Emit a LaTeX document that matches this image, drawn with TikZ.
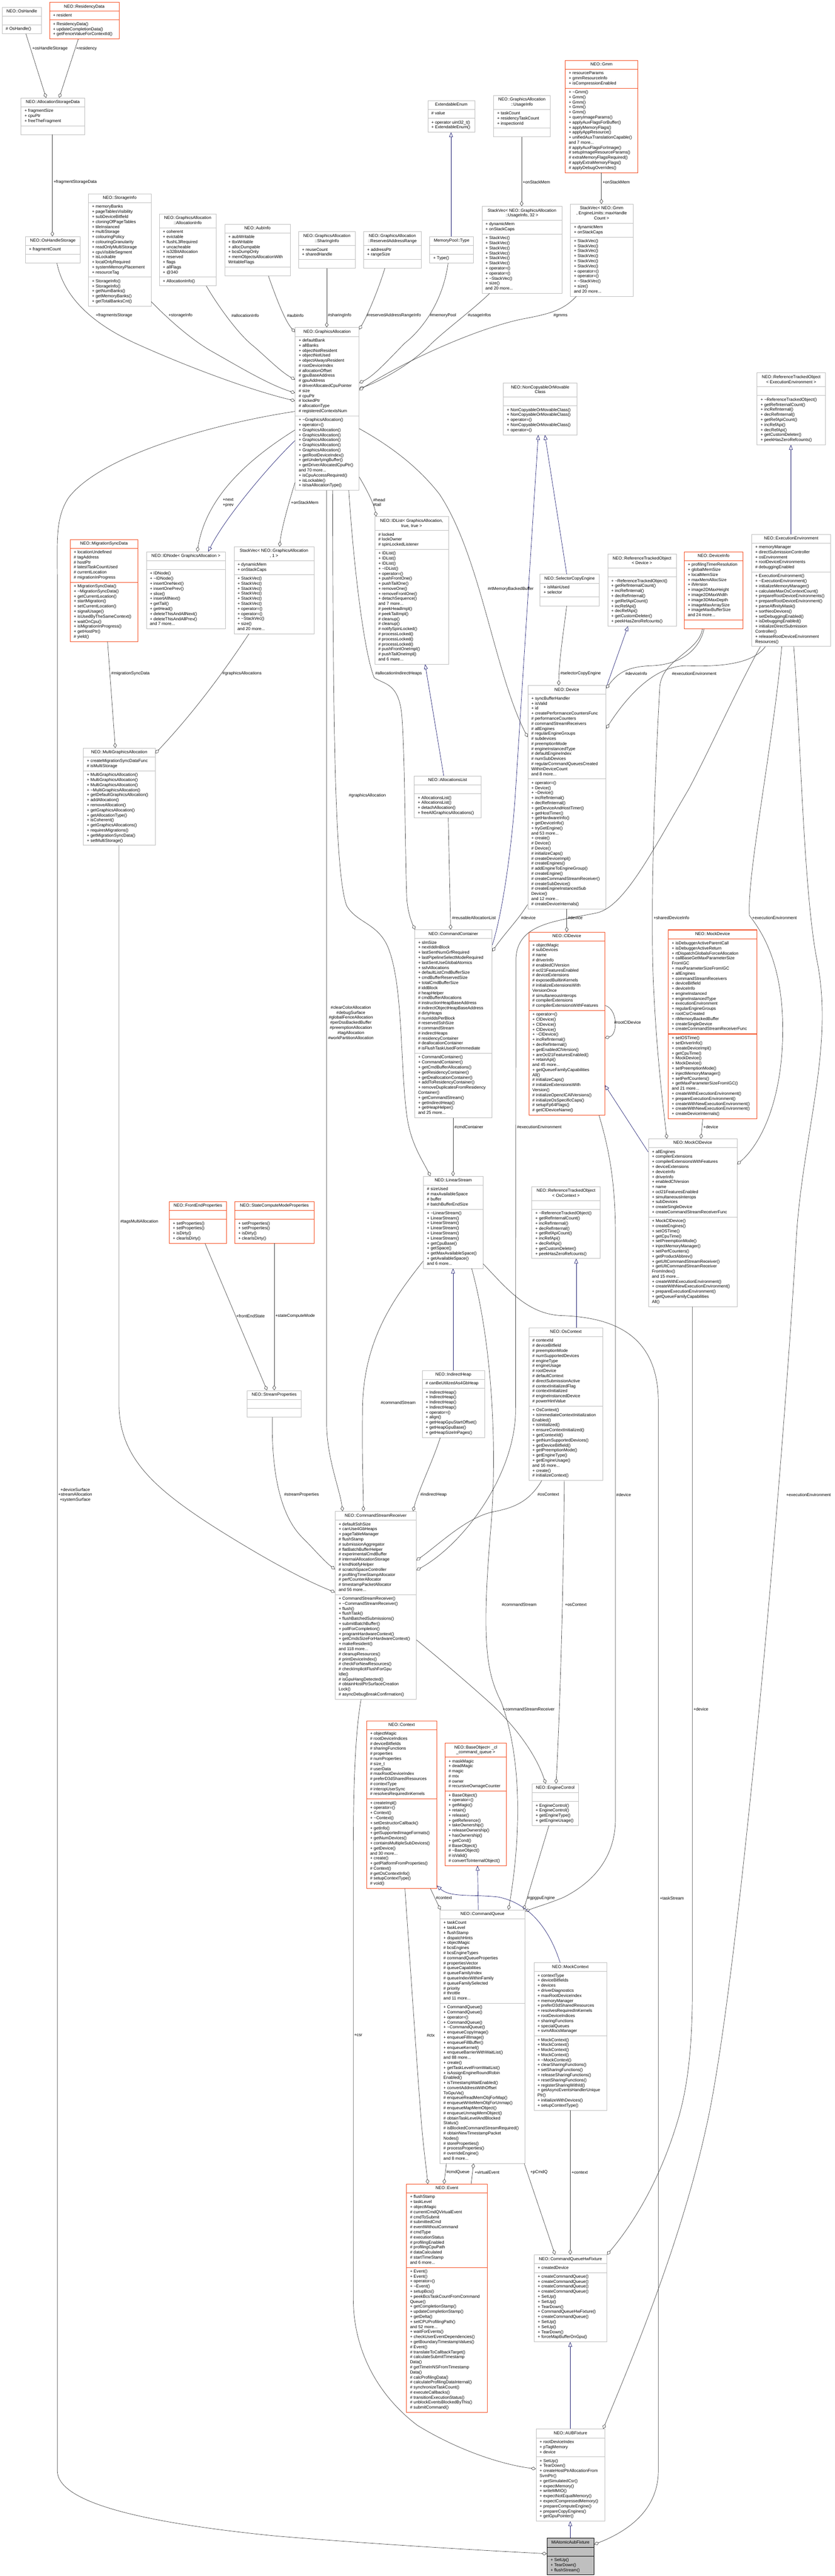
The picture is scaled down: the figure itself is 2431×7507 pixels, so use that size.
\documentclass[tikz,border=0pt]{standalone}
\usepackage{fontspec}
\setmainfont{Liberation Sans}
\usetikzlibrary{shapes.multipart,arrows.meta}
\definecolor{boxgray}{HTML}{BFBFBF}
\definecolor{boxred}{RGB}{245,75,30}
\definecolor{edgegray}{HTML}{404040}
\definecolor{inhblue}{HTML}{191970}
\setlength{\parindent}{0pt}
\newcommand{\tld}{\textasciitilde}
\newcommand{\umlc}[8]{\node[#5, minimum width=#4pt] (#1) at (#2,#3) {\begin{tabular}{@{}c@{}}#6\end{tabular}\nodepart{two}\begin{tabular}{@{}l@{}}#7\end{tabular}\nodepart{three}\begin{tabular}{@{}l@{}}#8\end{tabular}};}
\newcommand{\SVM}{+ StackVec()\\+ StackVec()\\+ StackVec()\\+ StackVec()\\+ StackVec()\\+ StackVec()\\+ operator=()\\+ operator=()\\+ \tld StackVec()\\+ size()\\and 20 more...}
\newcommand{\RTOM}{+ \tld ReferenceTrackedObject()\\+ getRefInternalCount()\\+ incRefInternal()\\+ decRefInternal()\\+ getRefApiCount()\\+ incRefApi()\\+ decRefApi()\\+ getCustomDeleter()\\+ peekHasZeroRefcounts()}
\newcommand{\FEPM}{+ setProperties()\\+ setProperties()\\+ isDirty()\\+ clearIsDirty()}
\tikzset{
 cls/.style={rectangle split, rectangle split parts=3, rectangle split part align={center,left,left}, draw=boxgray, line width=1pt, fill=white, inner xsep=10.5pt, inner ysep=5pt, anchor=north west, font=\fontsize{12.4}{14.7}\selectfont},
 redcls/.style={cls, draw=boxred},
 boldred/.style={cls, draw=boxred, line width=2pt},
 rootcls/.style={cls, draw=black, fill=boxgray},
 lbl/.style={font=\fontsize{12.4}{14.7}\selectfont, inner sep=0pt, anchor=west},
 uses/.style={draw=edgegray, line width=1pt, -{Diamond[length=15pt,width=10pt,fill=white]}},
 inh/.style={draw=inhblue, line width=1pt, -{Triangle[length=14pt,width=11pt,fill=white]}}
}
\begin{document}
\begin{tikzpicture}[x=1pt,y=-1pt]
\path[fill=white, use as bounding box] (0,0) rectangle (2431,7507);
% ---------- nodes ----------
\umlc{oshandle}{5.8}{20.4}{114.4}{cls}{NEO::OsHandle}{\mbox{}}{\# OsHandle()}
\umlc{residency}{143.4}{6.4}{203}{redcls}{NEO::ResidencyData}{+ resident}{+ ResidencyData()\\+ updateCompletionData()\\+ getFenceValueForContextId()}
\umlc{asd}{60.5}{285}{185.7}{cls}{NEO::AllocationStorageData}{+ fragmentSize\\+ cpuPtr\\+ freeTheFragment}{\mbox{}}
\umlc{ohs}{73.8}{688.8}{159.2}{cls}{NEO::OsHandleStorage}{+ fragmentCount}{\mbox{}}
\umlc{storageinfo}{257}{564.4}{182.4}{cls}{NEO::StorageInfo}{+ memoryBanks\\+ pageTablesVisibility\\+ subDeviceBitfield\\+ cloningOfPageTables\\+ tileInstanced\\+ multiStorage\\+ colouringPolicy\\+ colouringGranularity\\+ readOnlyMultiStorage\\+ cpuVisibleSegment\\+ isLockable\\+ localOnlyRequired\\+ systemMemoryPlacement\\+ resourceTag}{+ StorageInfo()\\+ StorageInfo()\\+ getNumBanks()\\+ getMemoryBanks()\\+ getTotalBanksCnt()}
\umlc{allocinfo}{463.4}{623}{165.9}{cls}{NEO::GraphicsAllocation\\::AllocationInfo}{+ coherent\\+ evictable\\+ flushL3Required\\+ uncacheable\\+ is32BitAllocation\\+ reserved\\+ flags\\+ allFlags\\+ @340}{+ AllocationInfo()}
\umlc{aubinfo}{654.1}{652.4}{190.7}{cls}{NEO::AubInfo}{+ aubWritable\\+ tbxWritable\\+ allocDumpable\\+ bcsDumpOnly\\+ memObjectsAllocationWith\\WritableFlags}{\mbox{}}
\umlc{sharinginfo}{868.8}{674.7}{165.8}{cls}{NEO::GraphicsAllocation\\::SharingInfo}{+ reuseCount\\+ sharedHandle}{\mbox{}}
\umlc{reservedar}{1058.7}{674.7}{167.5}{cls}{NEO::GraphicsAllocation\\::ReservedAddressRange}{+ addressPtr\\+ rangeSize}{\mbox{}}
\umlc{mptype}{1251}{688.8}{128}{cls}{MemoryPool::Type}{\mbox{}}{+ Type()}
\umlc{extenum}{1245.5}{292.7}{137.4}{cls}{ExtendableEnum}{\# value}{+ operator uint32\_t()\\+ ExtendableEnum()}
\umlc{usageinfo}{1437.1}{277.4}{165.6}{cls}{NEO::GraphicsAllocation\\::UsageInfo}{+ taskCount\\+ residencyTaskCount\\+ inspectionId}{\mbox{}}
\umlc{gmm}{1645.9}{175.4}{211.2}{redcls}{NEO::Gmm}{+ resourceParams\\+ gmmResourceInfo\\+ isCompressionEnabled}{+ \tld Gmm()\\+ Gmm()\\+ Gmm()\\+ Gmm()\\+ Gmm()\\+ queryImageParams()\\+ applyAuxFlagsForBuffer()\\+ applyMemoryFlags()\\+ applyAppResource()\\+ unifiedAuxTranslationCapable()\\and 7 more...\\\# applyAuxFlagsForImage()\\\# setupImageResourceParams()\\\# extraMemoryFlagsRequired()\\\# applyExtraMemoryFlags()\\\# applyDebugOverrides()}
\umlc{svusage}{1403.3}{600.8}{233.2}{cls}{StackVec< NEO::GraphicsAllocation\\::UsageInfo, 32 >}{+ dynamicMem\\+ onStackCaps}{\SVM}
\umlc{svgmm}{1660.8}{594.4}{182.2}{cls}{StackVec< NEO::Gmm\\*, EngineLimits::maxHandle\\Count >}{+ dynamicMem\\+ onStackCaps}{\SVM}
\umlc{ga}{859.3}{954.1}{186.1}{cls}{NEO::GraphicsAllocation}{+ defaultBank\\+ allBanks\\+ objectNotResident\\+ objectNotUsed\\+ objectAlwaysResident\\\# rootDeviceIndex\\\# allocationOffset\\\# gpuBaseAddress\\\# gpuAddress\\\# driverAllocatedCpuPointer\\\# size\\\# cpuPtr\\\# lockedPtr\\\# allocationType\\\# registeredContextsNum}{+ \tld GraphicsAllocation()\\+ operator=()\\+ GraphicsAllocation()\\+ GraphicsAllocation()\\+ GraphicsAllocation()\\+ GraphicsAllocation()\\+ GraphicsAllocation()\\+ getRootDeviceIndex()\\+ getUnderlyingBuffer()\\+ getDriverAllocatedCpuPtr()\\and 70 more...\\+ isCpuAccessRequired()\\+ isLockable()\\+ isIsaAllocationType()}
\umlc{idnode}{425.7}{1607.7}{230.4}{cls}{NEO::IDNode< GraphicsAllocation >}{\mbox{}}{+ IDNode()\\+ \tld IDNode()\\+ insertOneNext()\\+ insertOnePrev()\\+ slice()\\+ insertAllNext()\\+ getTail()\\+ getHead()\\+ deleteThisAndAllNext()\\+ deleteThisAndAllPrev()\\and 7 more...}
\umlc{svga}{680.9}{1592.8}{233.4}{cls}{StackVec< NEO::GraphicsAllocation\\*, 1 >}{+ dynamicMem\\+ onStackCaps}{\SVM}
\umlc{idlist}{1091.1}{1505}{214.6}{cls}{NEO::IDList< GraphicsAllocation,\\true, true >}{\# locked\\\# lockOwner\\\# spinLockedListener}{+ IDList()\\+ IDList()\\+ IDList()\\+ \tld IDList()\\+ operator=()\\+ pushFrontOne()\\+ pushTailOne()\\+ removeOne()\\+ removeFrontOne()\\+ detachSequence()\\and 7 more...\\\# peekHeadImpl()\\\# peekTailImpl()\\\# cleanup()\\\# cleanup()\\\# notifySpinLocked()\\\# processLocked()\\\# processLocked()\\\# processLocked()\\\# pushFrontOneImpl()\\\# pushTailOneImpl()\\and 6 more...}
\umlc{migsync}{204}{1571.2}{197}{redcls}{NEO::MigrationSyncData}{+ locationUndefined\\\# tagAddress\\\# hostPtr\\\# latestTaskCountUsed\\\# currentLocation\\\# migrationInProgress}{+ MigrationSyncData()\\+ \tld MigrationSyncData()\\+ getCurrentLocation()\\+ startMigration()\\+ setCurrentLocation()\\+ signalUsage()\\+ isUsedByTheSameContext()\\+ waitOnCpu()\\+ isMigrationInProgress()\\+ getHostPtr()\\\# yield()}
\umlc{mga}{242}{2179.8}{209.3}{cls}{NEO::MultiGraphicsAllocation}{+ createMigrationSyncDataFunc\\\# isMultiStorage}{+ MultiGraphicsAllocation()\\+ MultiGraphicsAllocation()\\+ MultiGraphicsAllocation()\\+ \tld MultiGraphicsAllocation()\\+ getDefaultGraphicsAllocation()\\+ addAllocation()\\+ removeAllocation()\\+ getGraphicsAllocation()\\+ getAllocationType()\\+ isCoherent()\\+ getGraphicsAllocations()\\+ requiresMigrations()\\+ getMigrationSyncData()\\+ setMultiStorage()}
\umlc{ncomc}{1465.5}{1116}{214.8}{cls}{NEO::NonCopyableOrMovable\\Class}{\mbox{}}{+ NonCopyableOrMovableClass()\\+ NonCopyableOrMovableClass()\\+ operator=()\\+ NonCopyableOrMovableClass()\\+ operator=()}
\umlc{selcopy}{1572.5}{1673.2}{172.2}{cls}{NEO::SelectorCopyEngine}{+ isMainUsed\\+ selector}{\mbox{}}
\umlc{device}{1536.8}{1997.3}{228}{cls}{NEO::Device}{+ syncBufferHandler\\+ isValid\\+ id\\+ createPerformanceCountersFunc\\\# performanceCounters\\\# commandStreamReceivers\\\# allEngines\\\# regularEngineGroups\\\# subdevices\\\# preemptionMode\\\# engineInstancedType\\\# defaultEngineIndex\\\# numSubDevices\\\# regularCommandQueuesCreated\\WithinDeviceCount\\and 8 more...}{+ operator=()\\+ Device()\\+ \tld Device()\\+ incRefInternal()\\+ decRefInternal()\\+ getDeviceAndHostTimer()\\+ getHostTimer()\\+ getHardwareInfo()\\+ getDeviceInfo()\\+ tryGetEngine()\\and 53 more...\\+ create()\\\# Device()\\\# Device()\\\# initializeCaps()\\\# createDeviceImpl()\\\# createEngines()\\\# addEngineToEngineGroup()\\\# createEngine()\\\# createCommandStreamReceiver()\\\# createSubDevice()\\\# createEngineInstancedSub\\Device()\\and 12 more...\\\# createDeviceInternals()}
\umlc{rtodev}{1769.5}{1614.3}{200.1}{cls}{NEO::ReferenceTrackedObject\\< Device >}{\mbox{}}{\RTOM}
\umlc{devinfo}{1992.8}{1607.7}{170.6}{redcls}{NEO::DeviceInfo}{+ profilingTimerResolution\\+ globalMemSize\\+ localMemSize\\+ maxMemAllocSize\\+ ilVersion\\+ image2DMaxHeight\\+ image2DMaxWidth\\+ image3DMaxDepth\\+ imageMaxArraySize\\+ imageMaxBufferSize\\and 24 more...}{\mbox{}}
\umlc{execenv}{2189}{1556.3}{230.3}{cls}{NEO::ExecutionEnvironment}{+ memoryManager\\+ directSubmissionController\\+ osEnvironment\\+ rootDeviceEnvironments\\\# debuggingEnabled}{+ ExecutionEnvironment()\\+ \tld ExecutionEnvironment()\\+ initializeMemoryManager()\\+ calculateMaxOsContextCount()\\+ prepareRootDeviceEnvironments()\\+ prepareRootDeviceEnvironment()\\+ parseAffinityMask()\\+ sortNeoDevices()\\+ setDebuggingEnabled()\\+ isDebuggingEnabled()\\+ initializeDirectSubmission\\Controller()\\+ releaseRootDeviceEnvironment\\Resources()}
\umlc{rtoexec}{2204.5}{1086.2}{199.4}{cls}{NEO::ReferenceTrackedObject\\< ExecutionEnvironment >}{\mbox{}}{\RTOM}
\umlc{alloclist}{1206}{2261}{195}{cls}{NEO::AllocationsList}{\mbox{}}{+ AllocationsList()\\+ AllocationsList()\\+ detachAllocation()\\+ freeAllGraphicsAllocations()}
\umlc{cc}{1207}{2708.8}{226}{cls}{NEO::CommandContainer}{+ slmSize\\+ nextIddInBlock\\+ lastSentNumGrfRequired\\+ lastPipelineSelectModeRequired\\+ lastSentUseGlobalAtomics\\+ sshAllocations\\+ defaultListCmdBufferSize\\+ cmdBufferReservedSize\\+ totalCmdBufferSize\\\# iddBlock\\\# heapHelper\\\# cmdBufferAllocations\\\# instructionHeapBaseAddress\\\# indirectObjectHeapBaseAddress\\\# dirtyHeaps\\\# numIddsPerBlock\\\# reservedSshSize\\\# commandStream\\\# indirectHeaps\\\# residencyContainer\\\# deallocationContainer\\\# isFlushTaskUsedForImmediate}{+ CommandContainer()\\+ CommandContainer()\\+ getCmdBufferAllocations()\\+ getResidencyContainer()\\+ getDeallocationContainer()\\+ addToResidencyContainer()\\+ removeDuplicatesFromResidency\\Container()\\+ getCommandStream()\\+ getIndirectHeap()\\+ getHeapHelper()\\and 25 more...}
\umlc{cldevice}{1539.9}{2716.2}{221.1}{redcls}{NEO::ClDevice}{+ objectMagic\\\# subDevices\\\# name\\\# driverInfo\\\# enabledClVersion\\\# ocl21FeaturesEnabled\\\# deviceExtensions\\\# exposedBuiltinKernels\\\# initializeExtensionsWith\\VersionOnce\\\# simultaneousInterops\\\# compilerExtensions\\\# compilerExtensionsWithFeatures}{+ operator=()\\+ ClDevice()\\+ ClDevice()\\+ ClDevice()\\+ \tld ClDevice()\\+ incRefInternal()\\+ decRefInternal()\\+ getEnabledClVersion()\\+ areOcl21FeaturesEnabled()\\+ retainApi()\\and 45 more...\\+ getQueueFamilyCapabilities\\All()\\\# initializeCaps()\\\# initializeExtensionsWith\\Version()\\\# initializeOpenclCAllVersions()\\\# initializeOsSpecificCaps()\\\# setupFp64Flags()\\\# getClDeviceName()}
\umlc{mockdevice}{1945.5}{2708.8}{258.3}{boldred}{NEO::MockDevice}{+ isDebuggerActiveParentCall\\+ isDebuggerActiveReturn\\+ rtDispatchGlobalsForceAllocation\\+ callBaseGetMaxParameterSize\\FromIGC\\+ maxParameterSizeFromIGC\\+ allEngines\\+ commandStreamReceivers\\+ deviceBitfield\\+ deviceInfo\\+ engineInstanced\\+ engineInstancedType\\+ executionEnvironment\\+ regularEngineGroups\\+ rootCsrCreated\\+ rtMemoryBackedBuffer\\+ createSingleDevice\\+ createCommandStreamReceiverFunc}{+ setOSTime()\\+ setDriverInfo()\\+ createDeviceImpl()\\+ getCpuTime()\\+ MockDevice()\\+ MockDevice()\\+ setPreemptionMode()\\+ injectMemoryManager()\\+ setPerfCounters()\\+ getMaxParameterSizeFromIGC()\\and 21 more...\\+ createWithExecutionEnvironment()\\+ prepareExecutionEnvironment()\\+ createWithNewExecutionEnvironment()\\+ createWithNewExecutionEnvironment()\\+ createDeviceInternals()}
\umlc{mockcl}{1888.1}{3318.2}{258.3}{cls}{NEO::MockClDevice}{+ allEngines\\+ compilerExtensions\\+ compilerExtensionsWithFeatures\\+ deviceExtensions\\+ deviceInfo\\+ driverInfo\\+ enabledClVersion\\+ name\\+ ocl21FeaturesEnabled\\+ simultaneousInterops\\+ subDevices\\+ createSingleDevice\\+ createCommandStreamReceiverFunc}{+ MockClDevice()\\+ createEngines()\\+ setOSTime()\\+ getCpuTime()\\+ setPreemptionMode()\\+ injectMemoryManager()\\+ setPerfCounters()\\+ getProductAbbrev()\\+ getUltCommandStreamReceiver()\\+ getUltCommandStreamReceiver\\FromIndex()\\and 15 more...\\+ createWithExecutionEnvironment()\\+ createWithNewExecutionEnvironment()\\+ prepareExecutionEnvironment()\\+ getQueueFamilyCapabilities\\All()}
\umlc{linstream}{1232.8}{3427.5}{173.7}{cls}{NEO::LinearStream}{\# sizeUsed\\\# maxAvailableSpace\\\# buffer\\\# batchBufferEndSize}{+ \tld LinearStream()\\+ LinearStream()\\+ LinearStream()\\+ LinearStream()\\+ LinearStream()\\+ LinearStream()\\+ getCpuBase()\\+ getSpace()\\+ getMaxAvailableSpace()\\+ getAvailableSpace()\\and 6 more...}
\umlc{rtoos}{1548.5}{3457.4}{199.3}{cls}{NEO::ReferenceTrackedObject\\< OsContext >}{\mbox{}}{\RTOM}
\umlc{oscontext}{1539.9}{3869}{215.6}{cls}{NEO::OsContext}{\# contextId\\\# deviceBitfield\\\# preemptionMode\\\# numSupportedDevices\\\# engineType\\\# engineUsage\\\# rootDevice\\\# defaultContext\\\# directSubmissionActive\\\# contextInitializedFlag\\\# contextInitialized\\\# engineInstancedDevice\\\# powerHintValue}{+ OsContext()\\+ isImmediateContextInitialization\\Enabled()\\+ isInitialized()\\+ ensureContextInitialized()\\+ getContextId()\\+ getNumSupportedDevices()\\+ getDeviceBitfield()\\+ getPreemptionMode()\\+ getEngineType()\\+ getEngineUsage()\\and 16 more...\\+ create()\\\# initializeContext()}
\umlc{iheap}{1229}{3993.6}{182.2}{cls}{NEO::IndirectHeap}{\# canBeUtilizedAs4GbHeap}{+ IndirectHeap()\\+ IndirectHeap()\\+ IndirectHeap()\\+ IndirectHeap()\\+ operator=()\\+ align()\\+ getHeapGpuStartOffset()\\+ getHeapGpuBase()\\+ getHeapSizeInPages()}
\umlc{frontend}{492.4}{3501.3}{166.8}{redcls}{NEO::FrontEndProperties}{\mbox{}}{\FEPM}
\umlc{statecm}{683.2}{3501.3}{231.1}{redcls}{NEO::StateComputeModeProperties}{\mbox{}}{\FEPM}
\umlc{streamprops}{719.7}{4051.7}{157.4}{cls}{NEO::StreamProperties}{\mbox{}}{\mbox{}}
\umlc{csr}{975.6}{4403.8}{236.5}{cls}{NEO::CommandStreamReceiver}{+ defaultSshSize\\+ canUse4GbHeaps\\+ pageTableManager\\\# flushStamp\\\# submissionAggregator\\\# flatBatchBufferHelper\\\# experimentalCmdBuffer\\\# internalAllocationStorage\\\# kmdNotifyHelper\\\# scratchSpaceController\\\# profilingTimeStampAllocator\\\# perfCounterAllocator\\\# timestampPacketAllocator\\and 56 more...}{+ CommandStreamReceiver()\\+ \tld CommandStreamReceiver()\\+ flush()\\+ flushTask()\\+ flushBatchedSubmissions()\\+ submitBatchBuffer()\\+ pollForCompletion()\\+ programHardwareContext()\\+ getCmdsSizeForHardwareContext()\\+ makeResident()\\and 118 more...\\\# cleanupResources()\\\# printDeviceIndex()\\\# checkForNewResources()\\\# checkImplicitFlushForGpu\\Idle()\\\# isGpuHangDetected()\\\# obtainHostPtrSurfaceCreation\\Lock()\\\# asyncDebugBreakConfirmation()}
\umlc{context}{1067.1}{5013.9}{204.5}{redcls}{NEO::Context}{+ objectMagic\\\# rootDeviceIndices\\\# deviceBitfields\\\# sharingFunctions\\\# properties\\\# numProperties\\\# size\_t\\\# userData\\\# maxRootDeviceIndex\\\# preferD3dSharedResources\\\# contextType\\\# interopUserSync\\\# resolvesRequiredInKernels}{+ createImpl()\\+ operator=()\\+ Context()\\+ \tld Context()\\+ setDestructorCallback()\\+ getInfo()\\+ getSupportedImageFormats()\\+ getNumDevices()\\+ containsMultipleSubDevices()\\+ getDevice()\\and 30 more...\\+ create()\\+ getPlatformFromProperties()\\\# Context()\\\# getOsContextInfo()\\\# setupContextType()\\\# void()}
\umlc{baseobj}{1295.7}{5079.6}{179.1}{redcls}{NEO::BaseObject< \_cl\\\_command\_queue >}{+ maskMagic\\+ deadMagic\\\# magic\\\# mtx\\\# owner\\\# recursiveOwnageCounter}{+ BaseObject()\\+ operator=()\\+ getMagic()\\+ retain()\\+ release()\\+ getReference()\\+ takeOwnership()\\+ releaseOwnership()\\+ hasOwnership()\\+ getCond()\\\# BaseObject()\\\# \tld BaseObject()\\\# isValid()\\\# convertToInternalObject()}
\umlc{engctl}{1549.2}{5197.7}{135.7}{cls}{NEO::EngineControl}{\mbox{}}{+ EngineControl()\\+ EngineControl()\\+ getEngineType()\\+ getEngineUsage()}
\umlc{cq}{1280.9}{5565.3}{248.2}{cls}{NEO::CommandQueue}{+ taskCount\\+ taskLevel\\+ flushStamp\\+ dispatchHints\\+ objectMagic\\\# bcsEngines\\\# bcsEngineTypes\\\# commandQueueProperties\\\# propertiesVector\\\# queueCapabilities\\\# queueFamilyIndex\\\# queueIndexWithinFamily\\\# queueFamilySelected\\\# priority\\\# throttle\\and 11 more...}{+ CommandQueue()\\+ CommandQueue()\\+ operator=()\\+ CommandQueue()\\+ \tld CommandQueue()\\+ enqueueCopyImage()\\+ enqueueFillImage()\\+ enqueueFillBuffer()\\+ enqueueKernel()\\+ enqueueBarrierWithWaitList()\\and 88 more...\\+ create()\\+ getTaskLevelFromWaitList()\\+ isAssignEngineRoundRobin\\Enabled()\\+ isTimestampWaitEnabled()\\+ convertAddressWithOffset\\ToGpuVa()\\\# enqueueReadMemObjForMap()\\\# enqueueWriteMemObjForUnmap()\\\# enqueueMapMemObject()\\\# enqueueUnmapMemObject()\\\# obtainTaskLevelAndBlocked\\Status()\\\# isBlockedCommandStreamRequired()\\\# obtainNewTimestampPacket\\Nodes()\\\# storeProperties()\\\# processProperties()\\\# overrideEngine()\\and 8 more...}
\umlc{mockctx}{1554.7}{5719.1}{212.4}{cls}{NEO::MockContext}{+ contextType\\+ deviceBitfields\\+ devices\\+ driverDiagnostics\\+ maxRootDeviceIndex\\+ memoryManager\\+ preferD3dSharedResources\\+ resolvesRequiredInKernels\\+ rootDeviceIndices\\+ sharingFunctions\\+ specialQueues\\+ svmAllocsManager}{+ MockContext()\\+ MockContext()\\+ MockContext()\\+ MockContext()\\+ \tld MockContext()\\+ clearSharingFunctions()\\+ setSharingFunctions()\\+ releaseSharingFunctions()\\+ resetSharingFunctions()\\+ registerSharingWithId()\\+ getAsyncEventsHandlerUnique\\Ptr()\\+ initializeWithDevices()\\+ setupContextType()}
\umlc{event}{1183.4}{6364.4}{235.6}{redcls}{NEO::Event}{+ flushStamp\\+ taskLevel\\+ objectMagic\\\# currentCmdQVirtualEvent\\\# cmdToSubmit\\\# submittedCmd\\\# eventWithoutCommand\\\# cmdType\\\# executionStatus\\\# profilingEnabled\\\# profilingCpuPath\\\# dataCalculated\\\# startTimeStamp\\and 6 more...}{+ Event()\\+ Event()\\+ operator=()\\+ \tld Event()\\+ setupBcs()\\+ peekBcsTaskCountFromCommand\\Queue()\\+ getCompletionStamp()\\+ updateCompletionStamp()\\+ getDelta()\\+ setCPUProfilingPath()\\and 52 more...\\+ waitForEvents()\\+ checkUserEventDependencies()\\+ getBoundaryTimestampValues()\\\# Event()\\\# translateToCallbackTarget()\\\# calculateSubmitTimestamp\\Data()\\\# getTimeInNSFromTimestamp\\Data()\\\# calcProfilingData()\\\# calculateProfilingDataInternal()\\\# synchronizeTaskCount()\\\# executeCallbacks()\\\# transitionExecutionStatus()\\\# unblockEventsBlockedByThis()\\\# submitCommand()}
\umlc{cqhw}{1555.4}{6570.5}{211.7}{cls}{NEO::CommandQueueHwFixture}{+ createdDevice}{+ createCommandQueue()\\+ createCommandQueue()\\+ createCommandQueue()\\+ createCommandQueue()\\+ SetUp()\\+ SetUp()\\+ TearDown()\\+ CommandQueueHwFixture()\\+ createCommandQueue()\\+ SetUp()\\+ SetUp()\\+ TearDown()\\+ forceMapBufferOnGpu()}
\umlc{aubfix}{1560.9}{7078.2}{200.8}{cls}{NEO::AUBFixture}{+ rootDeviceIndex\\+ pTagMemory\\+ device}{+ SetUp()\\+ TearDown()\\+ createHostPtrAllocationFrom\\SvmPtr()\\+ getSimulatedCsr()\\+ expectMemory()\\+ writeMMIO()\\+ expectNotEqualMemory()\\+ expectCompressedMemory()\\+ prepareComputeEngine()\\+ prepareCopyEngines()\\+ getGpuPointer()}
\umlc{miatomic}{1592.7}{7396.4}{137.3}{rootcls}{MiAtomicAubFixture}{\mbox{}}{+ SetUp()\\+ TearDown()\\+ flushStream()}
% ---------- connectors ----------
\draw[uses] (oshandle.south -| 75.4,0) -- (asd.north -| 134.3,0);
\draw[uses] (residency.south -| 228,0) -- (asd.north -| 172.4,0);
\draw[uses] (asd.south -| 152.5,0) -- (ohs.north -| 152.5,0);
\draw[inh] (mptype.north -| 1313.8,0) -- (extenum.south -| 1313.8,0);
\draw[uses] (usageinfo.south -| 1519.5,0) -- (svusage.north -| 1519.5,0);
\draw[uses] (gmm.south -| 1751.8,0) -- (svgmm.north -| 1751.8,0);
\draw[uses] (ohs.south -| 165.8,0) .. controls (185,860) and (260,940) .. (400,1003) .. controls (560,1075) and (740,1140) .. (ga.west |- 0,1168);
\draw[uses] (storageinfo.east |- 0,879) .. controls (500,940) and (560,990) .. (610,1020) .. controls (690,1065) and (780,1120) .. (ga.west |- 0,1145);
\draw[uses] (allocinfo.south -| 601,0) .. controls (640,900) and (700,980) .. (740,1010) .. controls (780,1045) and (820,1085) .. (ga.west |- 0,1106);
\draw[uses] (aubinfo.south -| 781.8,0) .. controls (805,870) and (830,935) .. (ga.west |- 0,968);
\draw[uses] (sharinginfo.south -| 951.8,0) -- (ga.north -| 951.8,0);
\draw[uses] (reservedar.south -| 1121,0) .. controls (1100,850) and (1070,920) .. (ga.east |- 0,960);
\draw[uses] (mptype.south -| 1305.2,0) .. controls (1290,880) and (1230,960) .. (1179,1000) .. controls (1130,1050) and (1090,1095) .. (ga.east |- 0,1116);
\draw[uses] (svusage.south -| 1426,0) .. controls (1380,900) and (1300,960) .. (1258,1000) .. controls (1200,1060) and (1110,1110) .. (ga.east |- 0,1132.6);
\draw[uses] (svgmm.south -| 1678.8,0) .. controls (1640,905) and (1600,915) .. (1520,930) .. controls (1400,955) and (1200,1040) .. (ga.east |- 0,1137);
\draw[uses] (ga.west |- 0,1253) .. controls (720,1340) and (600,1450) .. (idnode.north -| 574.6,0);
\draw[inh] (ga.west |- 0,1284) .. controls (800,1340) and (660,1500) .. (idnode.north -| 606.4,0);
\draw[uses] (ga.west |- 0,1406) .. controls (840,1470) and (820,1540) .. (svga.north -| 814.3,0);
\draw[uses] (ga.east |- 0,1390) .. controls (1070,1430) and (1090,1470) .. (idlist.north -| 1095.8,0);
\draw[uses] (ga.south -| 951.5,0) -- (951.5,4150) .. controls (952,4250) and (990,4340) .. (csr.north -| 998,0);
\draw[uses] (ga.south -| 969,0) .. controls (970,2100) and (975,2550) .. (1010,2640) .. controls (1040,2690) and (1100,2690) .. (1130,2760) .. controls (1175,2870) and (1165,3100) .. (1185,3250) .. controls (1195,3330) and (1230,3380) .. (linstream.north -| 1253.8,0);
\draw[uses] (ga.south -| 1016,0) .. controls (1030,1650) and (1060,1900) .. (1090,1975) .. controls (1120,1995) and (1160,1990) .. (1170,2080) .. controls (1180,2200) and (1180,2500) .. (1185,2620) .. controls (1188,2660) and (1200,2690) .. (cc.north -| 1209,0);
\draw[uses] (ga.east |- 0,1249) .. controls (1120,1290) and (1210,1350) .. (1280,1440) .. controls (1400,1620) and (1440,1960) .. (device.west |- 0,2148);
\draw[uses] (svga.south -| 725,0) .. controls (690,1900) and (590,2050) .. (mga.east |- 0,2195.5);
\draw[uses] (migsync.south -| 313.3,0) -- (mga.north -| 335.8,0);
\draw[uses] (mga.south -| 346.6,0) -- (346.6,4098) .. controls (350,4250) and (450,4340) .. (640,4460) .. controls (800,4560) and (900,4610) .. (csr.west |- 0,4640);
\draw[uses] (ga.west |- 0,1199) .. controls (650,1230) and (300,1320) .. (200,1450) .. controls (160,1510) and (167,1580) .. (167,1700) -- (167,7200) .. controls (167,7290) and (400,7350) .. (800,7390) .. controls (1100,7415) and (1400,7432) .. (miatomic.west |- 0,7442);
\draw[inh] (alloclist.north -| 1292.5,0) -- (idlist.south -| 1238.3,0);
\draw[uses] (alloclist.south -| 1305.7,0) -- (cc.north -| 1312.7,0);
\draw[inh] (cc.east |- 0,2754) .. controls (1470,2640) and (1495,2420) .. (1502,2300) -- (ncomc.south -| 1567.9,0);
\draw[inh] (selcopy.north -| 1650.8,0) -- (ncomc.south -| 1587.2,0);
\draw[uses] (selcopy.south -| 1650.8,0) .. controls (1640,1850) and (1628,1930) .. (device.north -| 1627.6,0);
\draw[inh] (device.east |- 0,2003) -- (rtodev.south -| 1829.2,0);
\draw[uses] (devinfo.south -| 2051,0) .. controls (2040,1880) and (2000,1935) .. (1900,1940) .. controls (1830,1942) and (1800,1960) .. (device.east |- 0,2006);
\draw[uses] (devinfo.south -| 2046,0) .. controls (2035,1900) and (1930,1920) .. (1922,2000) .. controls (1905,2300) and (1893,2700) .. (1905,2900) .. controls (1915,3100) and (1935,3250) .. (mockcl.north -| 1942.4,0);
\draw[inh] (execenv.north -| 2303.8,0) -- (rtoexec.south -| 2303.8,0);
\draw[uses] (execenv.south -| 2229.3,0) .. controls (2200,1925) and (2130,1945) .. (2000,1940) .. controls (1900,1940) and (1820,2040) .. (device.east |- 0,2123);
\draw[uses] (execenv.south -| 2215,0) .. controls (2150,2000) and (2060,2200) .. (2006,2300) .. controls (1900,2480) and (1820,2640) .. (1740,2660) .. controls (1620,2685) and (1510,2690) .. (1503,2790) -- (1502,4110) .. controls (1500,4300) and (1350,4500) .. (csr.east |- 0,4576);
\draw[uses] (execenv.south -| 2277,0) .. controls (2255,2150) and (2175,2550) .. (2183,2668) .. controls (2215,2710) and (2280,2800) .. (2280,3000) .. controls (2280,3200) and (2220,3330) .. (mockcl.east |- 0,3393);
\draw[uses] (execenv.south -| 2312,0) .. controls (2330,2100) and (2340,2600) .. (2380,2800) .. controls (2430,3050) and (2340,3300) .. (2320,3600) .. controls (2280,4300) and (2150,5800) .. (2056,6204) .. controls (1980,6550) and (1830,6900) .. (aubfix.north -| 1757,0);
\draw[uses] (mockdevice.south -| 2047,0) -- (mockcl.north -| 2041.7,0);
\draw[uses] (cldevice.east |- 0,2930) .. controls (1800,2940) and (1800,3015) .. (cldevice.east |- 0,3025);
\draw[inh] (mockcl.west |- 0,3357) -- (cldevice.east |- 0,3162.3);
\draw[uses] (device.west |- 0,2636) .. controls (1510,2680) and (1470,2720) .. (cc.east |- 0,2772.6);
\draw[uses] (device.south -| 1650.8,0) -- (cldevice.north -| 1650.8,0);
\draw[uses] (cc.south -| 1319.7,0) -- (linstream.north -| 1319.7,0);
\draw[uses] (cldevice.south -| 1744.7,0) .. controls (1775,3350) and (1792.7,3450) .. (1792.7,3600) -- (1792.7,5300) .. controls (1792.7,5420) and (1720,5490) .. (1640,5530) .. controls (1590,5550) and (1560,5558) .. (cq.east |- 0,5570);
\draw[inh] (oscontext.north -| 1678.4,0) -- (rtoos.south -| 1678.4,0);
\draw[inh] (iheap.north -| 1319.7,0) -- (linstream.south -| 1319.7,0);
\draw[uses] (linstream.west |- 0,3675) .. controls (1150,3780) and (1060,3900) .. (1056,4100) .. controls (1054,4250) and (1058,4330) .. (csr.north -| 1058.5,0);
\draw[uses] (iheap.south -| 1282.5,0) .. controls (1260,4260) and (1220,4340) .. (csr.north -| 1203,0);
\draw[uses] (oscontext.south -| 1578,0) .. controls (1540,4380) and (1490,4395) .. (1440,4405) .. controls (1360,4420) and (1280,4500) .. (csr.east |- 0,4547);
\draw[uses] (linstream.south -| 1374,0) .. controls (1430,3900) and (1450,4200) .. (1430,4450) .. controls (1400,4800) and (1420,4880) .. (1460,4960) .. controls (1530,5150) and (1510,5400) .. (cq.north -| 1481,0);
\draw[uses] (oscontext.south -| 1643.8,0) .. controls (1640,4700) and (1630,5000) .. (engctl.north -| 1619.8,0);
\draw[uses] (csr.east |- 0,4779) .. controls (1300,4850) and (1380,4920) .. (1430,4965) .. controls (1500,5030) and (1560,5110) .. (engctl.north -| 1589.6,0);
\draw[uses] (engctl.south -| 1598.9,0) -- (cq.north -| 1525.2,0);
\draw[uses] (context.south -| 1253.8,0) -- (cq.north -| 1283,0);
\draw[inh] (mockctx.north -| 1631.4,0) .. controls (1600,5620) and (1540,5545) .. (1450,5528) .. controls (1370,5520) and (1310,5530) .. (context.east |- 0,5495);
\draw[inh] (cq.north -| 1393.4,0) -- (baseobj.south -| 1391,0);
\draw[uses] (context.south -| 1179.5,0) .. controls (1200,5800) and (1220,6100) .. (1229,6204) .. controls (1235,6270) and (1243,6330) .. (event.north -| 1246,0);
\draw[uses] (cq.south -| 1300.3,0) -- (event.north -| 1293.3,0);
\draw[uses] (event.north -| 1372.4,0) -- (cq.south -| 1379.4,0);
\draw[uses] (cq.south -| 1527,0) -- (cqhw.north -| 1616.7,0);
\draw[uses] (mockctx.south -| 1661,0) -- (cqhw.north -| 1661,0);
\draw[uses] (mockcl.south -| 2016.8,0) -- (2016.8,5800) .. controls (2016.8,6050) and (1985,6150) .. (1958,6230) .. controls (1900,6400) and (1820,6510) .. (cqhw.north east);
\draw[inh] (aubfix.north -| 1661,0) -- (cqhw.south -| 1661,0);
\draw[inh] (miatomic.north -| 1661,0) -- (aubfix.south -| 1661,0);
\draw[uses] (csr.south -| 1051.6,0) .. controls (1035,5050) and (1029,5200) .. (1029,5400) -- (1029,6700) .. controls (1030,6850) and (1100,6980) .. (1216,7068) .. controls (1350,7150) and (1480,7185) .. (aubfix.west |- 0,7194.6);
\draw[uses] (linstream.east |- 0,3683) .. controls (1480,3760) and (1540,3832) .. (1640,3834) .. controls (1800,3840) and (1915,3900) .. (1917.6,4080) -- (1917.6,7200) .. controls (1917.6,7320) and (1820,7380) .. (miatomic.east |- 0,7414.7);
\draw[uses] (frontend.south -| 597.1,0) -- (streamprops.north -| 777.8,0);
\draw[uses] (statecm.south -| 798.8,0) -- (streamprops.north -| 798.8,0);
\draw[uses] (streamprops.south -| 793.3,0) .. controls (790,4300) and (820,4420) .. (880,4480) .. controls (920,4520) and (945,4550) .. (csr.west |- 0,4573);
% ---------- labels ----------
\node[lbl] (l1) at (93.7,142.2) {+osHandleStorage};
\node[lbl] (l2) at (221.4,142.2) {+residency};
\node[lbl] (l3) at (156,531) {+fragmentStorageData};
\node[lbl] (l5) at (1522.6,531) {+onStackMem};
\node[lbl] (l6) at (1755,531) {+onStackMem};
\node[lbl] (l7) at (279,920) {+fragmentsStorage};
\node[lbl] (l8) at (491,920) {+storageInfo};
\node[lbl] (l9) at (674,920) {\#allocationInfo};
\node[lbl] (l10) at (835.7,920) {\#aubInfo};
\node[lbl] (l11) at (955,920) {\#sharingInfo};
\node[lbl] (l12) at (1068,920) {\#reservedAddressRangeInfo};
\node[lbl] (l13) at (1252,920) {\#memoryPool};
\node[lbl] (l14) at (1362.5,920) {\#usageInfos};
\node[lbl] (l15) at (1612,920) {\#gmms};
\node[lbl, align=left] (l16) at (649,1464.5) {+next\\+prev};
\node[lbl] (l18) at (847.6,1464) {+onStackMem};
\node[lbl, align=left] (l19) at (1087,1464) {\#head\\\#tail};
\node[lbl, align=center, anchor=center] (l20) at (1022,2980) {\#clearColorAllocation\\\#debugSurface\\\#globalFenceAllocation\\\#perDssBackedBuffer\\\#preemptionAllocation\\\#tagAllocation\\\#workPartitionAllocation};
\node[lbl] (l21) at (1016,2319) {\#graphicsAllocation};
\node[lbl] (l22) at (1093,1963) {\#allocationIndirectHeaps};
\node[lbl] (l23) at (1420.5,1717) {\#rtMemoryBackedBuffer};
\node[lbl] (l24) at (648,1963) {\#graphicsAllocations};
\node[lbl] (l25) at (324,1963) {\#migrationSyncData};
\node[lbl] (l26) at (350.5,3560) {\#tagsMultiAllocation};
\node[lbl, align=center, anchor=center] (l27) at (219,4356.5) {+deviceSurface\\+streamAllocation\\+systemSurface};
\node[lbl] (l29) at (1316.6,2674.8) {\#reusableAllocationList};
\node[lbl] (l32) at (1632.2,1963) {\#selectorCopyEngine};
\node[lbl] (l34) at (1821.4,1963) {\#deviceInfo};
\node[lbl] (l35) at (1903.6,2674.8) {+sharedDeviceInfo};
\node[lbl] (l37) at (1957,1963) {\#executionEnvironment};
\node[lbl] (l38) at (1505.8,3284) {\#executionEnvironment};
\node[lbl] (l39) at (2190.6,2674.8) {+executionEnvironment};
\node[lbl] (l40) at (2289.8,4355.6) {+executionEnvironment};
\node[lbl] (l41) at (2048.7,3284) {+device};
\node[lbl] (l42) at (1788.9,2979.8) {\#rootClDevice};
\node[lbl] (l44) at (1517.4,2674.8) {\#device};
\node[lbl] (l45) at (1654,2674.8) {\#device};
\node[lbl] (l46) at (1323.6,3284) {\#cmdContainer};
\node[lbl] (l47) at (1795,4355.6) {\#device};
\node[lbl] (l50) at (1109,4088) {\#commandStream};
\node[lbl] (l51) at (1224.3,4355.6) {\#indirectHeap};
\node[lbl] (l52) at (1565.5,4355.6) {\#osContext};
\node[lbl] (l53) at (1461.6,4676) {\#commandStream};
\node[lbl] (l54) at (1645.4,4676) {+osContext};
\node[lbl] (l55) at (1464.7,4980.7) {+commandStreamReceiver};
\node[lbl] (l56) at (1536,5531.2) {\#gpgpuEngine};
\node[lbl] (l57) at (1269.3,5531.2) {\#context};
\node[lbl] (l60) at (1243,5931) {\#ctx};
\node[lbl] (l61) at (1300,6331) {\#cmdQueue};
\node[lbl] (l62) at (1382.5,6331) {+virtualEvent};
\node[lbl] (l63) at (1544.6,6331) {+pCmdQ};
\node[lbl] (l64) at (1664.8,6331) {+context};
\node[lbl] (l65) at (2020,4980.7) {+device};
\node[lbl] (l68) at (1031.4,5931) {+csr};
\node[lbl] (l69) at (1922,5531.2) {+taskStream};
\node[lbl] (l70) at (687.9,3835) {+frontEndState};
\node[lbl] (l71) at (801.8,3835) {+stateComputeMode};
\node[lbl] (l72) at (827.5,4355.6) {\#streamProperties};
\end{tikzpicture}
\end{document}
